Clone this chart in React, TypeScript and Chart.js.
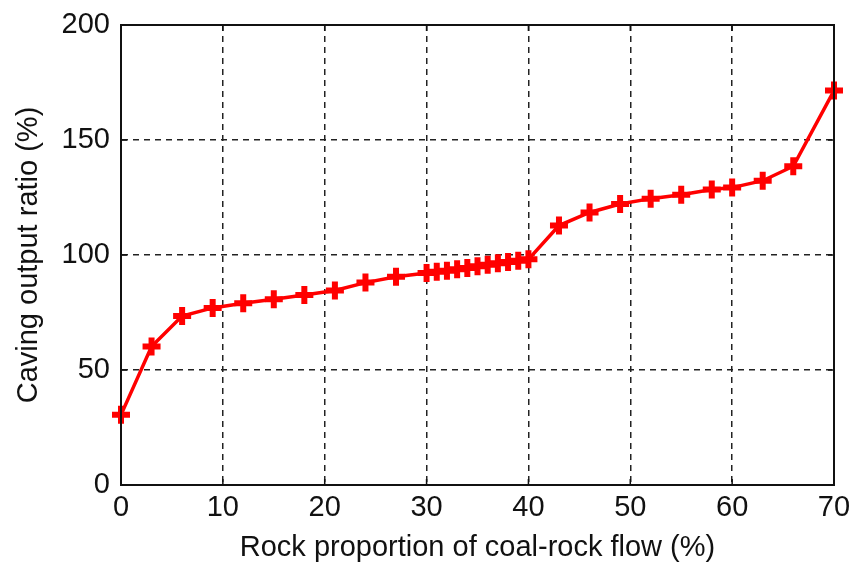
import React, { useEffect, useRef } from "react";
import { Chart, registerables } from "chart.js";

Chart.register(...registerables);

const xValues = [0, 3, 6, 9, 12, 15, 18, 21, 24, 27, 30, 31, 32, 33, 34, 35, 36, 37, 38, 39, 40, 43, 46, 49, 52, 55, 58, 60, 63, 66, 70];
const yValues = [30.5, 60.2, 73.5, 77, 79, 80.8, 82.6, 84.6, 88, 90.5, 92.2, 92.7, 93.2, 93.8, 94.4, 95.1, 95.8, 96.4, 97, 97.5, 98.1, 112.8, 118.5, 122.2, 124.5, 126.2, 128.5, 129.3, 132.3, 138.6, 171.5];
const xTitle = "Rock proportion of coal-rock flow (%)";
const yTitle = "Caving output ratio (%)";

const FONT = "'Liberation Sans', Arial, sans-serif";

const boxPlugin = {
  id: "boxPlugin",
  afterDraw(chart: any) {
    const { ctx, chartArea, scales } = chart;
    const { left, right, top, bottom } = chartArea;
    ctx.save();
    ctx.strokeStyle = "#111";
    ctx.lineWidth = 2;
    ctx.setLineDash([]);
    ctx.strokeRect(left, top, right - left, bottom - top);
    ctx.lineWidth = 1.5;
    const tl = 6;
    scales.x.ticks.forEach((t: any) => {
      const px = scales.x.getPixelForValue(t.value);
      ctx.beginPath();
      ctx.moveTo(px, bottom);
      ctx.lineTo(px, bottom - tl);
      ctx.moveTo(px, top);
      ctx.lineTo(px, top + tl);
      ctx.stroke();
    });
    scales.y.ticks.forEach((t: any) => {
      const py = scales.y.getPixelForValue(t.value);
      ctx.beginPath();
      ctx.moveTo(left, py);
      ctx.lineTo(left + tl, py);
      ctx.moveTo(right, py);
      ctx.lineTo(right - tl, py);
      ctx.stroke();
    });
    ctx.restore();
  },
};

const zeroPad = (s: any) => {
  s.paddingTop = 0;
  s.paddingBottom = 0;
  s.paddingLeft = 0;
  s.paddingRight = 0;
};

export default function App() {
  const ref = useRef<HTMLCanvasElement | null>(null);
  useEffect(() => {
    document.body.style.margin = "0";
    document.body.style.background = "#fff";
    if (!ref.current) return;
    const chart = new Chart(ref.current, {
      type: "scatter",
      data: {
        datasets: [
          {
            data: xValues.map((x, i) => ({ x, y: yValues[i] })),
            showLine: true,
            clip: false,
            borderColor: "#ff0000",
            backgroundColor: "#ff0000",
            borderWidth: 3.5,
            pointStyle: "cross",
            pointRadius: 9,
            pointBorderWidth: 6,
            pointBorderColor: "#ff0000",
          } as any,
        ],
      },
      options: {
        animation: false,
        responsive: false,
        maintainAspectRatio: false,
        layout: { padding: { top: 25, right: 17, left: 0, bottom: 0 } },
        plugins: { legend: { display: false }, tooltip: { enabled: false } },
        scales: {
          x: {
            type: "linear",
            min: 0,
            max: 70,
            afterFit: (s: any) => {
              s.height = 82;
              zeroPad(s);
            },
            ticks: {
              stepSize: 10,
              color: "#111",
              padding: 6,
              font: { family: FONT, size: 29 },
            },
            grid: { color: "#222", lineWidth: 1.5, drawTicks: false },
            border: { display: true, color: "#111", width: 2, dash: [6, 5] },
            title: {
              display: true,
              text: xTitle,
              color: "#111",
              font: { family: FONT, size: 29 },
              padding: { top: 0, bottom: 2 },
            },
          },
          y: {
            type: "linear",
            min: 0,
            max: 200,
            afterFit: (s: any) => {
              s.width = 121;
              zeroPad(s);
            },
            ticks: {
              stepSize: 50,
              color: "#111",
              padding: 11,
              font: { family: FONT, size: 29 },
            },
            grid: { color: "#222", lineWidth: 1.5, drawTicks: false },
            border: { display: true, color: "#111", width: 2, dash: [6, 5] },
            title: {
              display: true,
              text: yTitle,
              color: "#111",
              font: { family: FONT, size: 29 },
              padding: { top: 12, bottom: 0 },
            },
          },
        },
      },
      plugins: [boxPlugin],
    });
    return () => chart.destroy();
  }, []);
  return (
    <div style={{ width: 851, height: 567 }}>
      <canvas ref={ref} width={851} height={567} style={{ display: "block" }} />
    </div>
  );
}
